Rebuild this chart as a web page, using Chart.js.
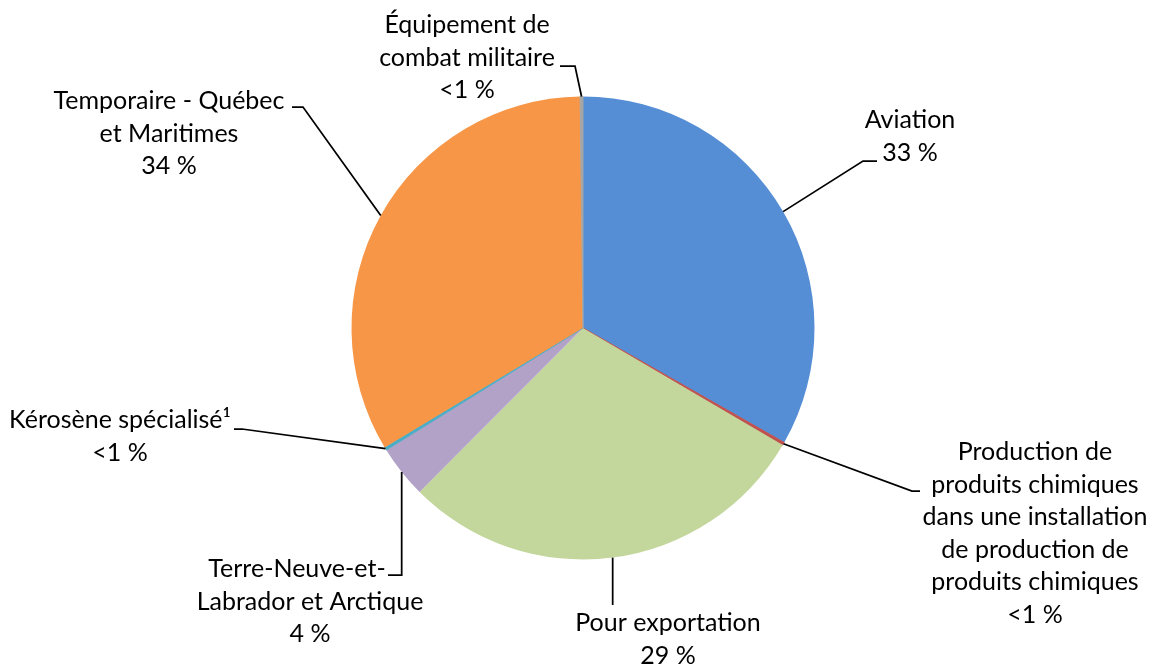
<!DOCTYPE html>
<html>
<head>
<meta charset="utf-8">
<script src="https://cdn.jsdelivr.net/npm/chart.js@4"></script>
<style>
  body { margin: 0; background: #fff; }
  #wrap { width: 1151px; height: 666px; }
</style>
</head>
<body>
<div id="wrap"><canvas id="pie" width="1151" height="666"></canvas></div>
<script>
// slices, clockwise from the top
const categories = [
  "Aviation",
  "Production de produits chimiques dans une installation de production de produits chimiques",
  "Pour exportation",
  "Terre-Neuve-et-Labrador et Arctique",
  "Kérosène spécialisé¹",
  "Temporaire - Québec et Maritimes",
  "Équipement de combat militaire",
];
const shares = [33.3, 0.2, 29.1, 3.7, 0.2, 33.5, 0.2];
const shareLabels = ["33 %", "<1 %", "29 %", "4 %", "<1 %", "34 %", "<1 %"];

// how the label text wraps
const labelLines = [
  ["Aviation"],
  ["Production de", "produits chimiques", "dans une installation", "de production de", "produits chimiques"],
  ["Pour exportation"],
  ["Terre-Neuve-et-", "Labrador et Arctique"],
  ["Kérosène spécialisé¹"],
  ["Temporaire - Québec", "et Maritimes"],
  ["Équipement de", "combat militaire"],
];

const colors = ["#558ED5", "#C0504D", "#C3D69B", "#B3A2C7", "#4BACC6", "#F79646", "#A5A5A5"];

// label placement: text center x, first line y, leader points after the arc anchor
// (a point without x stays on the anchor's x)
const labelLayout = [
  { x: 910, y: 120, path: [{ x: 863, y: 161 }, { x: 877, y: 161 }] },
  { x: 1035, y: 452, path: [{ x: 912, y: 491 }, { x: 920, y: 491 }] },
  { x: 668, y: 623, path: [{ y: 605 }] },
  { x: 310, y: 569, firstX: 297, path: [{ y: 575 }, { x: 388, y: 575 }] },
  { x: 120, y: 420, path: [{ x: 242, y: 429 }, { x: 234, y: 429 }] },
  { x: 169, y: 101, path: [{ x: 303, y: 107 }, { x: 292, y: 107 }] },
  { x: 467, y: 25, path: [{ x: 575, y: 66 }, { x: 560, y: 66 }] },
];
const lineHeight = 32.5;

const pieLabels = {
  id: "pieLabels",
  afterDraw(chart) {
    const ctx = chart.ctx;
    const arcs = chart.getDatasetMeta(0).data;
    ctx.save();
    ctx.strokeStyle = "#000";
    ctx.lineWidth = 1.75;
    ctx.fillStyle = "#000";
    ctx.font = "25px Lato";
    ctx.textAlign = "center";
    ctx.textBaseline = "middle";

    arcs.forEach((arc, i) => {
      const p = arc.getProps(["x", "y", "startAngle", "endAngle", "outerRadius"], true);
      const mid = (p.startAngle + p.endAngle) / 2;
      const ax = p.x + Math.cos(mid) * p.outerRadius;
      const ay = p.y + Math.sin(mid) * p.outerRadius;
      const lay = labelLayout[i];

      ctx.beginPath();
      ctx.moveTo(ax, ay);
      lay.path.forEach((pt) => ctx.lineTo(pt.x === undefined ? ax : pt.x, pt.y));
      ctx.stroke();

      const lines = labelLines[i].concat([shareLabels[i]]);
      lines.forEach((t, k) => {
        const x = k === 0 && lay.firstX ? lay.firstX : lay.x;
        ctx.fillText(t, x, lay.y + k * lineHeight);
      });
    });
    ctx.restore();
  },
};

new Chart(document.getElementById("pie"), {
  type: "pie",
  data: {
    labels: categories,
    datasets: [
      {
        data: shares,
        backgroundColor: colors,
        borderColor: colors,
        borderWidth: [0, 1, 0, 0, 1, 0, 1],
      },
    ],
  },
  options: {
    responsive: false,
    animation: false,
    layout: { padding: { top: 96, bottom: 106, left: 351, right: 336 } },
    plugins: {
      legend: { display: false },
      tooltip: { enabled: false },
    },
  },
  plugins: [pieLabels],
});
</script>
</body>
</html>
